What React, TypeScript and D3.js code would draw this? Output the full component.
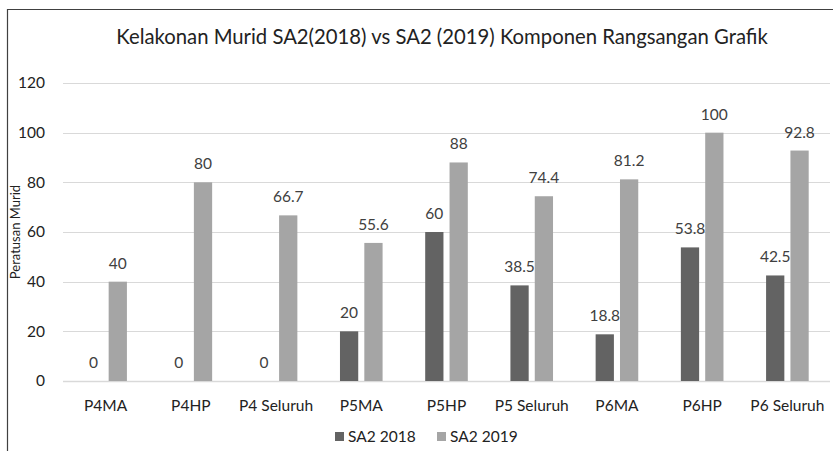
import React, { useEffect, useRef } from "react";
import * as d3 from "d3";

const categories = ["P4MA", "P4HP", "P4 Seluruh", "P5MA", "P5HP", "P5 Seluruh", "P6MA", "P6HP", "P6 Seluruh"];
const sa2018 = [0, 0, 0, 20, 60, 38.5, 18.8, 53.8, 42.5];
const sa2019 = [40, 80, 66.7, 55.6, 88, 74.4, 81.2, 100, 92.8];
const seriesNames = ["SA2 2018", "SA2 2019"];
const yTicks = [0, 20, 40, 60, 80, 100, 120];

const W = 833;
const H = 451;
const FONT = "Lato, 'Liberation Sans', sans-serif";

function App() {
  const ref = useRef<SVGSVGElement>(null);
  const margin = { top: 83, right: 3, bottom: 70, left: 63 };

  useEffect(() => {
    const svg = d3.select(ref.current);
    svg.selectAll("*").remove();
    const width = W - margin.left - margin.right;
    const height = H - margin.top - margin.bottom;
    const colors = ["#636363", "#a5a5a5"];

    // chart frame (cropped: only top and left edges visible)
    svg.append("path")
      .attr("d", `M7.5,${H} V9.5 H${W}`)
      .attr("fill", "none")
      .attr("stroke", "#404040")
      .attr("stroke-width", 1.2);

    svg.append("text")
      .attr("x", 442)
      .attr("y", 44)
      .attr("text-anchor", "middle")
      .style("font-family", FONT)
      .style("font-size", "20.3px")
      .attr("fill", "#222")
      .text("Kelakonan Murid SA2(2018) vs SA2 (2019) Komponen Rangsangan Grafik");

    const g = svg.append("g")
      .attr("transform", "translate(" + margin.left + "," + margin.top + ")");

    const x0 = d3.scaleBand().domain(categories).range([0, width]).paddingInner(0.5).paddingOuter(0.25);
    const x1 = d3.scaleBand().domain(seriesNames).range([0, x0.bandwidth()]).paddingInner(0.25);
    const y = d3.scaleLinear().domain([0, 120]).range([height, 0]);

    // gridlines
    g.selectAll(".grid")
      .data(yTicks)
      .enter()
      .append("line")
        .attr("x1", 0)
        .attr("x2", width)
        .attr("y1", d => Math.round(y(d)) + 0.5)
        .attr("y2", d => Math.round(y(d)) + 0.5)
        .attr("stroke", "#d9d9d9")
        .attr("stroke-width", d => d === 0 ? 1.5 : 1);

    // y tick labels
    g.selectAll(".ytick")
      .data(yTicks)
      .enter()
      .append("text")
        .attr("x", -18)
        .attr("y", d => y(d))
        .attr("dy", "0.35em")
        .attr("text-anchor", "end")
        .style("font-family", FONT)
        .style("font-size", "15.5px")
        .attr("fill", "#222")
        .text(d => d);

    // x labels
    g.selectAll(".xlab")
      .data(categories)
      .enter()
      .append("text")
        .attr("x", d => x0(d)! + x0.bandwidth() / 2)
        .attr("y", height + 30)
        .attr("text-anchor", "middle")
        .style("font-family", FONT)
        .style("font-size", "15.5px")
        .attr("fill", "#222")
        .text(d => d);

    const seriesData = [sa2018, sa2019];
    seriesData.forEach((vals, si) => {
      const name = seriesNames[si];
      g.selectAll(".bar" + si)
        .data(vals)
        .enter()
        .append("rect")
          .attr("x", (d, i) => x0(categories[i])! + x1(name)!)
          .attr("y", d => y(d))
          .attr("width", x1.bandwidth())
          .attr("height", d => height - y(d))
          .attr("fill", colors[si]);

      g.selectAll(".lab" + si)
        .data(vals)
        .enter()
        .append("text")
          .attr("x", (d, i) => x0(categories[i])! + x1(name)! + x1.bandwidth() / 2)
          .attr("y", d => y(d) - 13)
          .attr("text-anchor", "middle")
          .style("font-family", FONT)
          .style("font-size", "15.5px")
          .attr("fill", "#404040")
          .text(d => d);
    });

    // y axis title
    svg.append("text")
      .attr("transform", "translate(20," + (margin.top + height / 2) + ") rotate(-90)")
      .attr("text-anchor", "middle")
      .style("font-family", FONT)
      .style("font-size", "13px")
      .attr("fill", "#222")
      .text("Peratusan Murid");

    // legend
    const legend = svg.append("g").attr("transform", "translate(335,437)");
    const legendX = [0, 102];
    seriesNames.forEach((name, i) => {
      legend.append("rect")
        .attr("x", legendX[i])
        .attr("y", -5)
        .attr("width", 9)
        .attr("height", 9)
        .attr("fill", colors[i]);
      legend.append("text")
        .attr("x", legendX[i] + 13)
        .attr("y", 0)
        .attr("dy", "0.35em")
        .style("font-family", FONT)
        .style("font-size", "15.5px")
        .attr("fill", "#222")
        .text(name);
    });
  }, []);

  return (
    <svg ref={ref} width={W} height={H} style={{ position: "absolute", left: 0, top: 0, background: "#fff" }} />
  );
}

export default App;
